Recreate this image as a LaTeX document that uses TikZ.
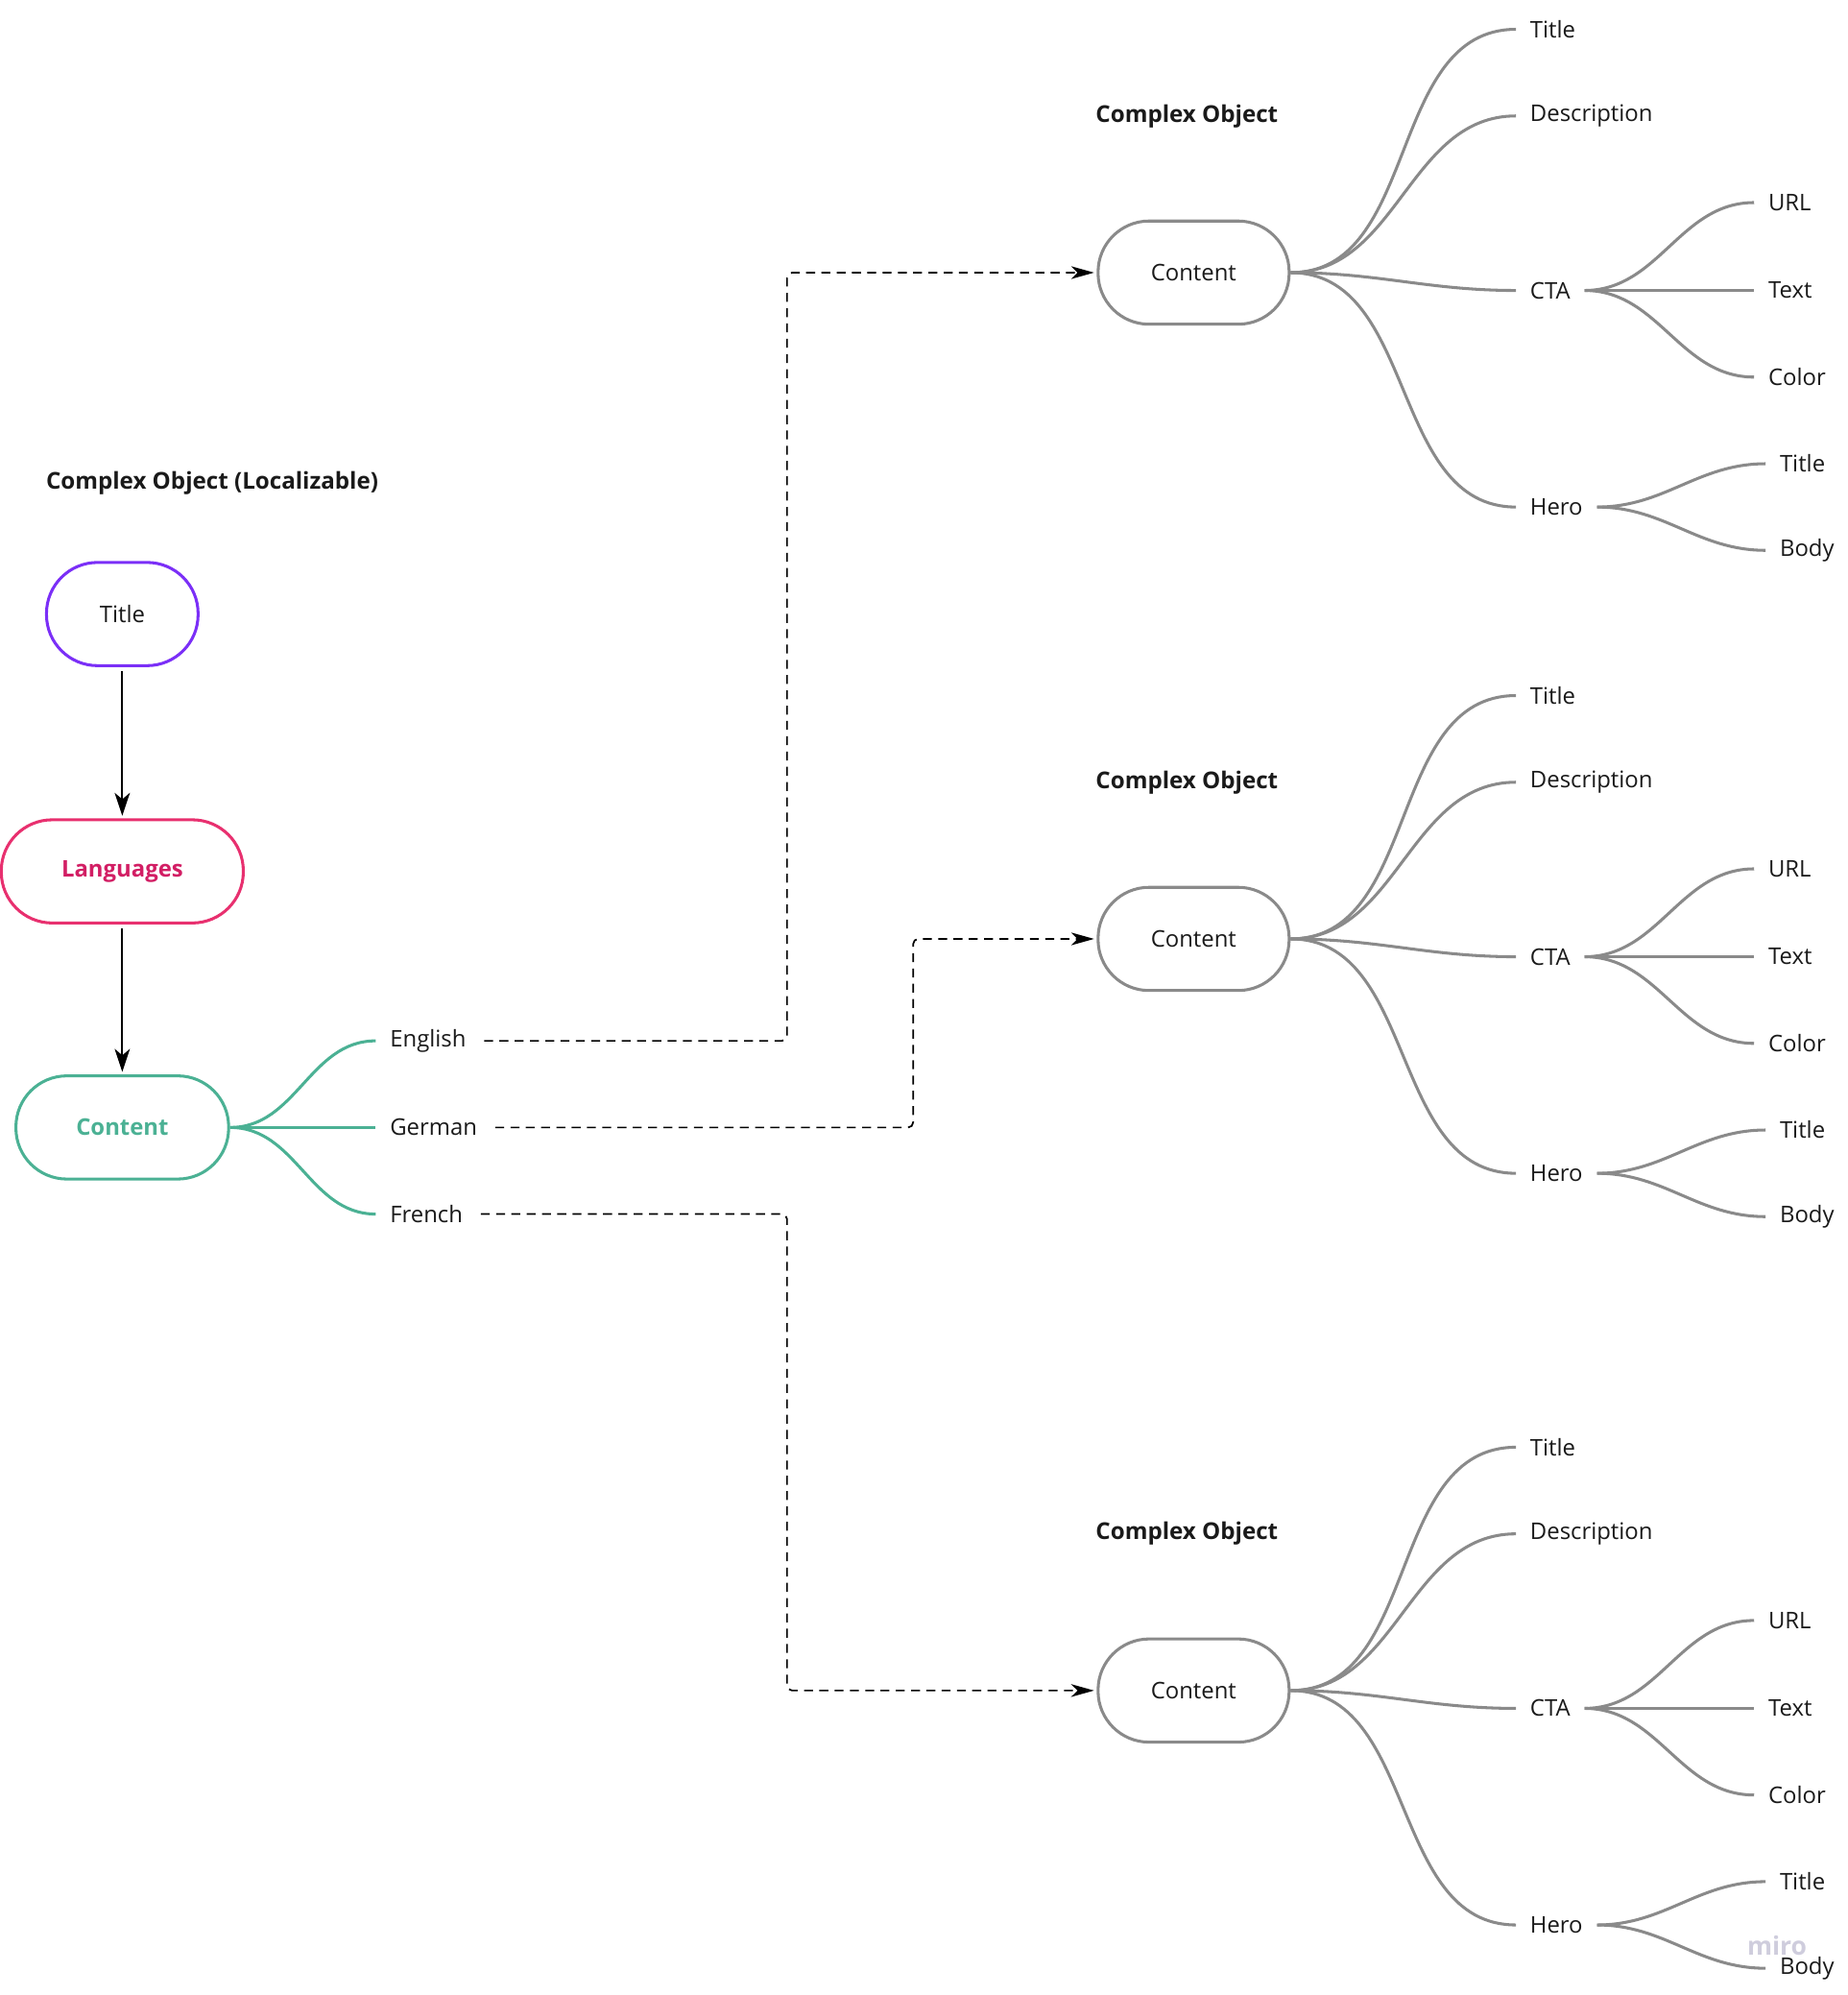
\documentclass[tikz,border=0pt]{standalone}
\usepackage{fontspec}
\setmainfont{Open Sans}
\usetikzlibrary{arrows.meta}
\definecolor{ink}{HTML}{1A1A1A}
\definecolor{titleviolet}{HTML}{7B2FF7}
\definecolor{langpink}{HTML}{E8306F}
\definecolor{langtext}{HTML}{D21E64}
\definecolor{contgreen}{HTML}{4BB194}
\definecolor{linegray}{HTML}{8A8A8A}
\definecolor{mirogray}{HTML}{CFCDDD}

\begin{document}
\begin{tikzpicture}[x=1pt, y=-1pt,
  every node/.style={font=\fontsize{18}{22}\selectfont, text=ink},
  pill/.style={draw, rectangle, rounded corners=40pt, minimum height=81pt, line width=2.3pt, inner sep=0pt},
  heading/.style={anchor=west, inner sep=0pt, font=\fontsize{18.2}{22}\selectfont\bfseries},
  leaf/.style={anchor=west, inner xsep=11pt, inner ysep=2pt},
  branch/.style={draw=linegray, line width=2.3pt, out=0, in=180},
  greenbranch/.style={draw=contgreen, line width=2.3pt, out=0, in=180},
  dashline/.style={arrows={-Stealth[length=18pt, width=10pt, inset=5pt]}, dash pattern=on 7pt off 5pt,
    line width=1.3pt, rounded corners=4pt, shorten <=3pt, shorten >=2pt}]
\useasboundingbox (0,0) rectangle (1450,1566);

\node[heading] at (36,379) (head) {Complex Object (Localizable)};
\node[pill, draw=titleviolet, minimum width=119pt] at (96,482) (title) {Title};
\node[pill, draw=langpink, minimum width=190pt, text=langtext, font=\fontsize{18}{22}\selectfont\bfseries] at (96,684) (langs) {Languages};
\node[pill, draw=contgreen, minimum width=167pt, text=contgreen, font=\fontsize{18}{22}\selectfont\bfseries] at (96,885) (content) {Content};

\draw[arrows={-Stealth[length=18pt, width=12pt, inset=5pt]}, line width=1.4pt, shorten <=3pt, shorten >=2pt] (title) -- (langs);
\draw[arrows={-Stealth[length=18pt, width=12pt, inset=5pt]}, line width=1.4pt, shorten <=3pt, shorten >=2pt] (langs) -- (content);

%languages
\node[leaf] at (295,817) (english) {English};
\node[leaf] at (295,885) (german) {German};
\node[leaf] at (295,953) (french) {French};
\draw[greenbranch] (content.east) to (english.west);
\draw[greenbranch] (content.east) to (german.west);
\draw[greenbranch] (content.east) to (french.west);

%first object
\node[heading] at (860,91) (headA) {Complex Object};
\node[pill, draw=linegray, minimum width=150pt] at (937,214) (contA) {Content};
\node[leaf] at (1190,23) (titleA) {Title};
\node[leaf] at (1190,91) (descA) {Description};
\node[leaf] at (1190,228) (ctaA) {CTA};
\node[leaf] at (1190,398) (heroA) {Hero};
\node[leaf] at (1377,159) (urlA) {URL};
\node[leaf] at (1377,228) (textA) {Text};
\node[leaf] at (1377,296) (colorA) {Color};
\node[leaf] at (1386,364) (htitleA) {Title};
\node[leaf] at (1386,432) (bodyA) {Body};
\draw[branch] (contA.east) to (titleA.west);
\draw[branch] (contA.east) to (descA.west);
\draw[branch] (contA.east) to (ctaA.west);
\draw[branch] (contA.east) to (heroA.west);
\draw[branch] (ctaA.east) to (urlA.west);
\draw[branch] (ctaA.east) to (textA.west);
\draw[branch] (ctaA.east) to (colorA.west);
\draw[branch] (heroA.east) to (htitleA.west);
\draw[branch] (heroA.east) to (bodyA.west);

%second object
\node[heading] at (860,614) (headB) {Complex Object};
\node[pill, draw=linegray, minimum width=150pt] at (937,737) (contB) {Content};
\node[leaf] at (1190,546) (titleB) {Title};
\node[leaf] at (1190,614) (descB) {Description};
\node[leaf] at (1190,751) (ctaB) {CTA};
\node[leaf] at (1190,921) (heroB) {Hero};
\node[leaf] at (1377,682) (urlB) {URL};
\node[leaf] at (1377,751) (textB) {Text};
\node[leaf] at (1377,819) (colorB) {Color};
\node[leaf] at (1386,887) (htitleB) {Title};
\node[leaf] at (1386,955) (bodyB) {Body};
\draw[branch] (contB.east) to (titleB.west);
\draw[branch] (contB.east) to (descB.west);
\draw[branch] (contB.east) to (ctaB.west);
\draw[branch] (contB.east) to (heroB.west);
\draw[branch] (ctaB.east) to (urlB.west);
\draw[branch] (ctaB.east) to (textB.west);
\draw[branch] (ctaB.east) to (colorB.west);
\draw[branch] (heroB.east) to (htitleB.west);
\draw[branch] (heroB.east) to (bodyB.west);

%third object
\node[heading] at (860,1204) (headC) {Complex Object};
\node[pill, draw=linegray, minimum width=150pt] at (937,1327) (contC) {Content};
\node[leaf] at (1190,1136) (titleC) {Title};
\node[leaf] at (1190,1204) (descC) {Description};
\node[leaf] at (1190,1341) (ctaC) {CTA};
\node[leaf] at (1190,1511) (heroC) {Hero};
\node[leaf] at (1377,1272) (urlC) {URL};
\node[leaf] at (1377,1341) (textC) {Text};
\node[leaf] at (1377,1409) (colorC) {Color};
\node[leaf] at (1386,1477) (htitleC) {Title};
\node[leaf] at (1386,1545) (bodyC) {Body};
\draw[branch] (contC.east) to (titleC.west);
\draw[branch] (contC.east) to (descC.west);
\draw[branch] (contC.east) to (ctaC.west);
\draw[branch] (contC.east) to (heroC.west);
\draw[branch] (ctaC.east) to (urlC.west);
\draw[branch] (ctaC.east) to (textC.west);
\draw[branch] (ctaC.east) to (colorC.west);
\draw[branch] (heroC.east) to (htitleC.west);
\draw[branch] (heroC.east) to (bodyC.west);

%language -> object
\draw[dashline] (english.east) -| ([xshift=-243pt]contA.west) -- (contA.west);
\draw[dashline] (german.east) -| ([xshift=-144pt]contB.west) -- (contB.west);
\draw[dashline] (french.east) -| ([xshift=-243pt]contC.west) -- (contC.west);

\node[text=mirogray, font=\fontsize{20}{24}\selectfont\bfseries] at (1395,1527) (miro) {miro};
\end{tikzpicture}
\end{document}
